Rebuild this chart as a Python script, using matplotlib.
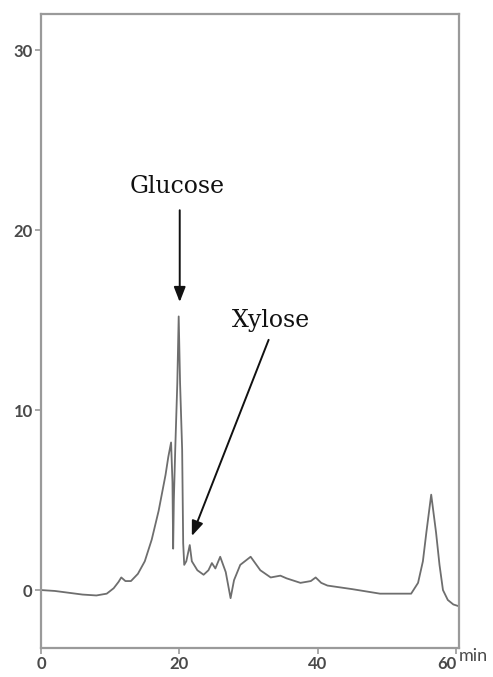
import matplotlib
matplotlib.use("Agg")
import matplotlib.pyplot as plt

# Chromatogram trace: retention time (min) and detector response
time_min = [0, 2, 4, 6, 8, 9.5, 10.5, 11.2, 11.6, 12.2, 13, 14, 15, 16, 17, 17.5,
            18, 18.4, 18.8, 19.0, 19.1, 19.2, 19.4, 19.7, 19.9, 20.1, 20.4, 20.55,
            20.7, 21.0, 21.5, 21.8, 22.6, 23.5, 24.2, 24.7, 25.2, 25.9, 26.7, 27.4,
            27.9, 28.8, 30.3, 31.7, 33.2, 34.6, 35.5, 37.5, 39.0, 39.7, 40.5, 41.4,
            45, 49, 53.5, 54.5, 55.2, 55.7, 56.4, 57.1, 57.6, 58.1, 58.8, 59.6, 60.4]
response = [0, -0.05, -0.15, -0.25, -0.3, -0.2, 0.1, 0.45, 0.7, 0.5, 0.5, 0.9, 1.6,
            2.8, 4.4, 5.4, 6.4, 7.4, 8.2, 6.0, 2.3, 5.0, 7.8, 11.5, 15.2, 11.5, 7.8,
            2.6, 1.4, 1.6, 2.5, 1.6, 1.1, 0.85, 1.1, 1.5, 1.2, 1.85, 1.0, -0.45, 0.55,
            1.4, 1.85, 1.1, 0.7, 0.8, 0.65, 0.4, 0.5, 0.7, 0.4, 0.25, 0.05, -0.2, -0.2,
            0.4, 1.6, 3.2, 5.3, 3.2, 1.4, 0, -0.55, -0.8, -0.9]

x_ticks = [0, 20, 40, 60]
y_ticks = [0, 10, 20, 30]

# Peak annotations: label, label position, arrow start, arrow tip
peak_labels = ["Glucose", "Xylose"]
label_pos = [(19.7, 22.4), (33.3, 15.0)]
arrow_start = [(20.05, 21.1), (32.9, 13.9)]
arrow_tip = [(20.05, 16.0), (21.8, 3.0)]

fig = plt.figure(figsize=(4.93, 6.77), dpi=100)
ax = fig.add_axes([0.0832, 0.0428, 0.848, 0.9365])

ax.plot(time_min, response, color="#6e6e6e", lw=1.3)

ax.set_xlim(0, 60.43)
ax.set_ylim(-3.22, 32.0)
ax.set_xticks(x_ticks)
ax.set_yticks(y_ticks)

for s in ax.spines.values():
    s.set_color("#9a9a9a")
    s.set_linewidth(1.6)

ax.tick_params(axis="both", direction="out", length=4, width=1.2, color="#9a9a9a",
               labelcolor="#4a4a4a", labelsize=12, pad=2)
for lab in ax.get_xticklabels() + ax.get_yticklabels():
    lab.set_family("Lato")
    lab.set_fontweight("bold")
# the last time label sits left of its tick to make room for the unit
ax.get_xticklabels()[-1].set_horizontalalignment("right")

ax.text(1.0, 0.0, "min", transform=ax.transAxes, ha="left", va="top",
        fontsize=13, color="#4a4a4a", family="Lato")

for lab, (tx, ty), (sx, sy), (ex, ey) in zip(peak_labels, label_pos, arrow_start, arrow_tip):
    ax.text(tx, ty, lab, ha="center", va="center", fontsize=17,
            family="DejaVu Serif", color="#111111")
    ax.annotate("", xy=(ex, ey), xytext=(sx, sy),
                arrowprops=dict(arrowstyle="-|>,head_length=0.9,head_width=0.35",
                                color="#111111", lw=1.4, shrinkA=0, shrinkB=0))

fig.savefig("out.png", dpi=100)
